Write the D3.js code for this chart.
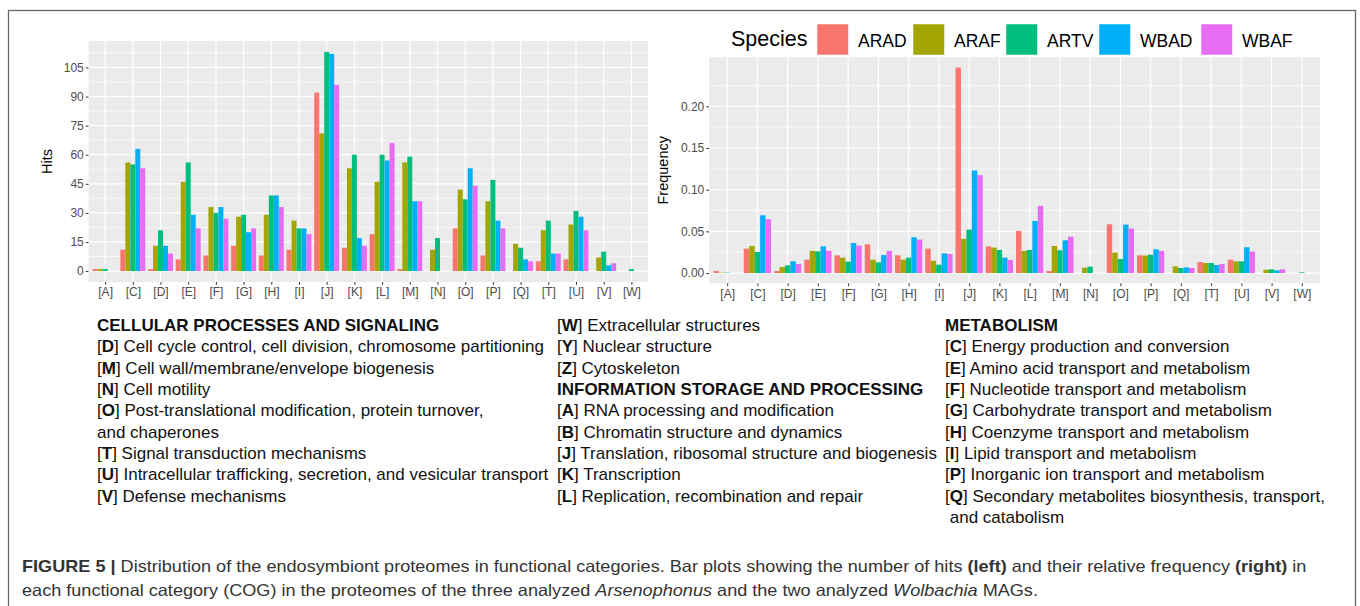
<!DOCTYPE html>
<html>
<head>
<meta charset="utf-8">
<script src="https://cdn.jsdelivr.net/npm/d3@7"></script>
<style>
  body { margin: 0; background: #fff; }
  svg { display: block; font-family: "Liberation Sans", Arial, sans-serif; }
</style>
</head>
<body>
<svg id="fig" width="1360" height="606"></svg>
<script>
// COG categories and species
const categories = ["[A]", "[C]", "[D]", "[E]", "[F]", "[G]", "[H]", "[I]", "[J]", "[K]",
  "[L]", "[M]", "[N]", "[O]", "[P]", "[Q]", "[T]", "[U]", "[V]", "[W]"];
const species = ["ARAD", "ARAF", "ARTV", "WBAD", "WBAF"];
const speciesColors = ["#F8766D", "#A3A500", "#00BF7D", "#00B0F6", "#E76BF3"];

// hits per category, one array per species
const hitsARAD = [1, 11, 1, 6, 8, 13, 8, 11, 92, 12, 19, 1, 0, 22, 8, 0, 5, 6, 0, 0];
const hitsARAF = [1, 56, 13, 46, 33, 28, 29, 26, 71, 53, 46, 56, 11, 42, 36, 14, 21, 24, 7, 0];
const hitsARTV = [1, 55, 21, 56, 30, 29, 39, 22, 113, 60, 60, 59, 17, 37, 47, 12, 26, 31, 10, 1];
const hitsWBAD = [0, 63, 13, 29, 33, 20, 39, 22, 112, 17, 57, 36, 0, 53, 26, 6, 9, 28, 3, 0];
const hitsWBAF = [0, 53, 9, 22, 27, 22, 33, 19, 96, 13, 66, 36, 0, 44, 22, 5, 9, 21, 4, 0];

// relative frequency per category
const freqARAD = [0.0024, 0.0293, 0.0024, 0.016, 0.0212, 0.0345, 0.0212, 0.0293, 0.2465, 0.032,
  0.0505, 0.0024, 0, 0.0585, 0.0212, 0, 0.0132, 0.016, 0, 0];
const freqARAF = [0.0005, 0.0325, 0.0072, 0.0265, 0.0184, 0.016, 0.016, 0.0148, 0.0409, 0.0305,
  0.0265, 0.0325, 0.0064, 0.0245, 0.0210, 0.008, 0.012, 0.014, 0.004, 0];
const freqARTV = [0.0005, 0.0253, 0.0092, 0.026, 0.0136, 0.0128, 0.0184, 0.01, 0.0521, 0.0277,
  0.0277, 0.0273, 0.0076, 0.0168, 0.022, 0.006, 0.012, 0.014, 0.0044, 0.0008];
const freqWBAD = [0, 0.0693, 0.014, 0.032, 0.036, 0.0216, 0.0429, 0.0236, 0.123, 0.0184,
  0.0625, 0.0393, 0, 0.0581, 0.0285, 0.0068, 0.0096, 0.0309, 0.0032, 0];
const freqWBAF = [0, 0.0645, 0.0108, 0.0265, 0.0329, 0.0265, 0.0401, 0.0228, 0.1174, 0.0156,
  0.0806, 0.0437, 0, 0.0533, 0.0265, 0.006, 0.0108, 0.0257, 0.0044, 0];

const hitsTicks = [0, 15, 30, 45, 60, 75, 90, 105];
const freqTicks = [0, 0.05, 0.10, 0.15, 0.20];

// text legend, three columns
const colCellular = [
  { head: "CELLULAR PROCESSES AND SIGNALING" },
  { code: "D", text: "Cell cycle control, cell division, chromosome partitioning" },
  { code: "M", text: "Cell wall/membrane/envelope biogenesis" },
  { code: "N", text: "Cell motility" },
  { code: "O", text: "Post-translational modification, protein turnover," },
  { plain: "and chaperones" },
  { code: "T", text: "Signal transduction mechanisms" },
  { code: "U", text: "Intracellular trafficking, secretion, and vesicular transport" },
  { code: "V", text: "Defense mechanisms" }
];
const colInformation = [
  { code: "W", text: "Extracellular structures" },
  { code: "Y", text: "Nuclear structure" },
  { code: "Z", text: "Cytoskeleton" },
  { head: "INFORMATION STORAGE AND PROCESSING" },
  { code: "A", text: "RNA processing and modification" },
  { code: "B", text: "Chromatin structure and dynamics" },
  { code: "J", text: "Translation, ribosomal structure and biogenesis" },
  { code: "K", text: "Transcription" },
  { code: "L", text: "Replication, recombination and repair" }
];
const colMetabolism = [
  { head: "METABOLISM" },
  { code: "C", text: "Energy production and conversion" },
  { code: "E", text: "Amino acid transport and metabolism" },
  { code: "F", text: "Nucleotide transport and metabolism" },
  { code: "G", text: "Carbohydrate transport and metabolism" },
  { code: "H", text: "Coenzyme transport and metabolism" },
  { code: "I", text: "Lipid transport and metabolism" },
  { code: "P", text: "Inorganic ion transport and metabolism" },
  { code: "Q", text: "Secondary metabolites biosynthesis, transport," },
  { plain: " and catabolism" }
];

const svg = d3.select("#fig");

// frame
svg.append("rect")
  .attr("x", 8.5).attr("y", 10.5)
  .attr("width", 1347).attr("height", 640)
  .attr("fill", "none").attr("stroke", "#666").attr("stroke-width", 1.3);

function drawPanel(opts) {
  const { left, right, top, bottom, series, ticks, fmt, title, titleX } = opts;
  const g = svg.append("g");

  const maxVal = d3.max(series.flat());
  const y = d3.scaleLinear()
    .domain([-maxVal * 0.05, maxVal * 1.05])
    .range([bottom, top]);
  const x = d3.scalePoint()
    .domain(categories)
    .range([left, right])
    .padding(0.6);
  const step = x.step();
  const xs = d3.scaleBand()
    .domain(species)
    .range([-0.45 * step, 0.45 * step]);

  // panel background
  g.append("rect")
    .attr("x", left).attr("y", top)
    .attr("width", right - left).attr("height", bottom - top)
    .attr("fill", "#EBEBEB");

  // minor grid
  const minor = d3.pairs(ticks).map(p => (p[0] + p[1]) / 2);
  minor.push(ticks[ticks.length - 1] + (ticks[1] - ticks[0]) / 2);
  g.append("g").selectAll("line")
    .data(minor.filter(v => y(v) >= top))
    .join("line")
    .attr("x1", left).attr("x2", right)
    .attr("y1", d => y(d)).attr("y2", d => y(d))
    .attr("stroke", "#fff").attr("stroke-width", 0.6);

  // major grid
  g.append("g").selectAll("line")
    .data(ticks)
    .join("line")
    .attr("x1", left).attr("x2", right)
    .attr("y1", d => y(d)).attr("y2", d => y(d))
    .attr("stroke", "#fff").attr("stroke-width", 1.2);
  g.append("g").selectAll("line")
    .data(categories)
    .join("line")
    .attr("x1", d => x(d)).attr("x2", d => x(d))
    .attr("y1", top).attr("y2", bottom)
    .attr("stroke", "#fff").attr("stroke-width", 1.2);

  // bars
  species.forEach((sp, si) => {
    g.append("g").selectAll("rect")
      .data(series[si].map((v, i) => ({ cat: categories[i], v })))
      .join("rect")
      .attr("x", d => x(d.cat) + xs(sp))
      .attr("width", xs.bandwidth())
      .attr("y", d => y(d.v))
      .attr("height", d => y(0) - y(d.v))
      .attr("fill", speciesColors[si]);
  });

  // axes
  const yAxis = g.append("g")
    .attr("transform", `translate(${left},0)`)
    .call(d3.axisLeft(y).tickValues(ticks).tickSize(2.75).tickPadding(2).tickFormat(fmt));
  const xAxis = g.append("g")
    .attr("transform", `translate(0,${bottom})`)
    .call(d3.axisBottom(x).tickSize(2.75).tickPadding(3));
  [yAxis, xAxis].forEach(a => {
    a.select(".domain").remove();
    a.selectAll(".tick line").attr("stroke", "#333").attr("stroke-width", 1);
    a.selectAll(".tick text")
      .attr("fill", "#4D4D4D")
      .style("font-size", "12px")
      .style("font-family", "'Liberation Sans', Arial, sans-serif");
  });

  g.append("text")
    .attr("transform", `translate(${titleX},${(top + bottom) / 2}) rotate(-90)`)
    .attr("text-anchor", "middle")
    .attr("dy", "0.35em")
    .style("font-size", "14.5px")
    .attr("fill", "#000")
    .text(title);
}

drawPanel({
  left: 88.5, right: 648, top: 41, bottom: 282,
  series: [hitsARAD, hitsARAF, hitsARTV, hitsWBAD, hitsWBAF],
  ticks: hitsTicks, fmt: d3.format("d"), title: "Hits", titleX: 47
});

drawPanel({
  left: 709, right: 1320, top: 57.3, bottom: 283.3,
  series: [freqARAD, freqARAF, freqARTV, freqWBAD, freqWBAF],
  ticks: freqTicks, fmt: d3.format(".2f"), title: "Frequency", titleX: 663
});

// species legend
const legend = svg.append("g");
legend.append("text")
  .attr("x", 731).attr("y", 46)
  .style("font-size", "21.5px")
  .attr("fill", "#000")
  .text("Species");
const keyX = [817, 913, 1006, 1099, 1201];
legend.selectAll("rect")
  .data(species)
  .join("rect")
  .attr("x", (d, i) => keyX[i]).attr("y", 24)
  .attr("width", 31.5).attr("height", 31)
  .attr("fill", (d, i) => speciesColors[i])
  .attr("stroke", "#fff").attr("stroke-width", 0.5);
legend.selectAll("text.lab")
  .data(species)
  .join("text")
  .attr("class", "lab")
  .attr("x", (d, i) => keyX[i] + 41)
  .attr("y", 46.5)
  .style("font-size", "17.5px")
  .attr("fill", "#000")
  .text(d => d);

// COG description columns
function drawColumn(lines, x0, y0) {
  const lh = 21.35;
  lines.forEach((ln, i) => {
    const t = svg.append("text")
      .attr("x", x0).attr("y", y0 + i * lh)
      .style("font-size", "17px")
      .attr("fill", "#111");
    if (ln.head) {
      t.style("font-weight", "bold").text(ln.head);
    } else if (ln.plain) {
      t.attr("xml:space", "preserve").text(ln.plain);
    } else {
      t.append("tspan").text("[");
      t.append("tspan").style("font-weight", "bold").text(ln.code);
      t.append("tspan").text("] " + ln.text);
    }
  });
}
drawColumn(colCellular, 97, 331);
drawColumn(colInformation, 557, 331);
drawColumn(colMetabolism, 945, 331);

// caption
const capSize = "16.5px";
const cap1 = svg.append("text").attr("fill", "#333").style("font-size", capSize);
cap1.append("tspan").style("font-weight", "bold").text("FIGURE 5 | ");
cap1.append("tspan").text("Distribution of the endosymbiont proteomes in functional categories. Bar plots showing the number of hits ");
cap1.append("tspan").style("font-weight", "bold").text("(left)");
cap1.append("tspan").text(" and their relative frequency ");
cap1.append("tspan").style("font-weight", "bold").text("(right)");
cap1.append("tspan").text(" in");

const cap2 = svg.append("text").attr("fill", "#333").style("font-size", capSize);
cap2.append("tspan").text("each functional category (COG) in the proteomes of the three analyzed ");
cap2.append("tspan").style("font-style", "italic").text("Arsenophonus");
cap2.append("tspan").text(" and the two analyzed ");
cap2.append("tspan").style("font-style", "italic").text("Wolbachia");
cap2.append("tspan").text(" MAGs.");

// caption is set in a condensed face: squeeze to the measured line width
const sx = (1307 - 22) / cap1.node().getComputedTextLength();
cap1.attr("transform", `translate(22,571.5) scale(${sx},1)`);
cap2.attr("transform", `translate(22,595.5) scale(${sx},1)`);
</script>
</body>
</html>
